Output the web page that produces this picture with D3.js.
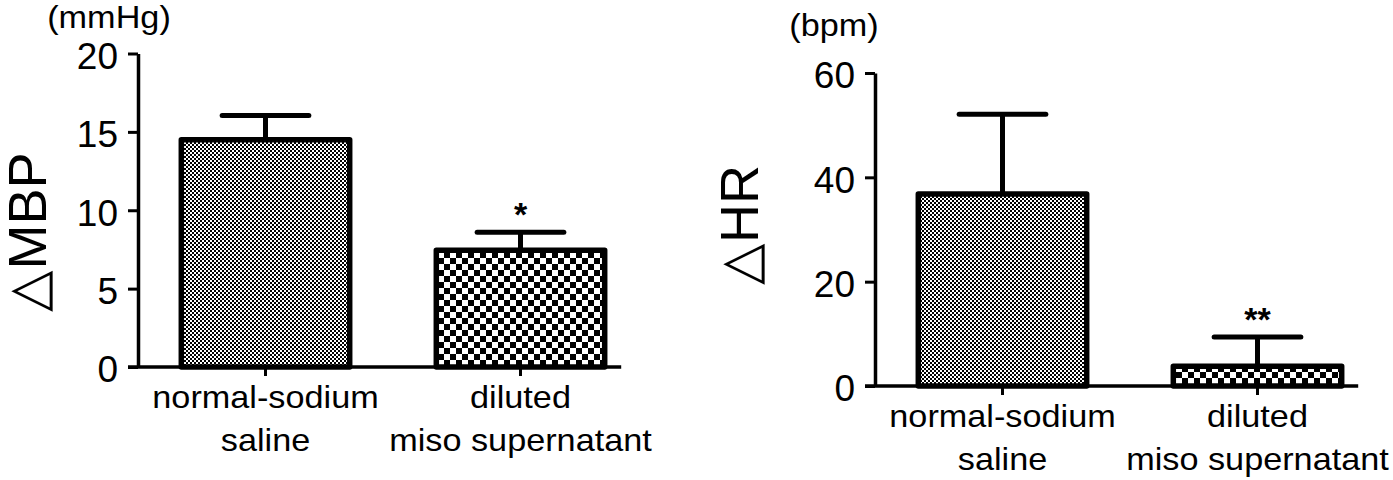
<!DOCTYPE html>
<html>
<head>
<meta charset="utf-8">
<script src="https://cdn.jsdelivr.net/npm/d3@7/dist/d3.min.js"></script>
<style>
  html, body { margin: 0; padding: 0; background: #fff; }
  text { font-family: "Liberation Sans", Arial, sans-serif; fill: #000; }
</style>
</head>
<body>
<div id="chart"></div>
<script>
// categories (two text lines each)
const categoryLines = [["normal-sodium", "saline"], ["diluted", "miso supernatant"]];

// left panel: change in mean blood pressure
const mbpMeans = [14.5, 7.45];
const mbpErrors = [1.55, 1.15];
const mbpTicks = [0, 5, 10, 15, 20];
const mbpStars = ["", "*"];

// right panel: change in heart rate
const hrMeans = [36.8, 3.8];
const hrErrors = [15.3, 5.6];
const hrTicks = [0, 20, 40, 60];
const hrStars = ["", "**"];

const patterns = ["checkFine", "checkCoarse"];

const width = 1393;
const height = 480;
const sx = 1.07; // the source text is slightly wide

const svg = d3.select("#chart")
    .append("svg")
    .attr("width", width)
    .attr("height", height);

// checkerboard fills
const defs = svg.append("defs");
function addChecker(id, cell) {
    const p = defs.append("pattern")
        .attr("id", id)
        .attr("patternUnits", "userSpaceOnUse")
        .attr("width", cell * 2)
        .attr("height", cell * 2);
    p.append("rect").attr("width", cell * 2).attr("height", cell * 2).attr("fill", "#fff");
    p.append("rect").attr("width", cell).attr("height", cell).attr("fill", "#000");
    p.append("rect").attr("x", cell).attr("y", cell).attr("width", cell).attr("height", cell).attr("fill", "#000");
}
addChecker("checkFine", 2);
addChecker("checkCoarse", 6);

function stretchedText(g, x, y, str, size, anchor) {
    return g.append("text")
        .attr("transform", `translate(${x},${y}) scale(${sx},1)`)
        .attr("text-anchor", anchor || "middle")
        .attr("font-size", size + "px")
        .text(str);
}

function drawPanel(cfg) {
    const g = svg.append("g");

    const y = d3.scaleLinear()
        .domain([0, cfg.max])
        .range([cfg.y0, cfg.yTop]);

    const x = d3.scaleBand()
        .domain(d3.range(cfg.means.length))
        .range([cfg.x0, cfg.x0 + 510])
        .paddingInner(0.32)
        .paddingOuter(0.16);

    // y axis
    const yAxis = g.append("g")
        .attr("transform", `translate(${cfg.x0},0)`)
        .call(d3.axisLeft(y).tickValues(cfg.ticks).tickSize(10).tickSizeOuter(0).tickPadding(10));
    yAxis.select(".domain").attr("stroke", "#000").attr("stroke-width", 3.5);
    yAxis.selectAll(".tick line").attr("stroke", "#000").attr("stroke-width", 3);
    yAxis.selectAll(".tick text")
        .attr("font-family", "Liberation Sans, Arial, sans-serif")
        .attr("font-size", "37px")
        .attr("fill", "#000")
        .attr("dy", "0.4em");

    // bars
    g.selectAll(".bar")
        .data(cfg.means)
        .enter()
        .append("rect")
        .attr("class", "bar")
        .attr("x", (d, i) => x(i) + 2.5)
        .attr("y", d => y(d))
        .attr("width", x.bandwidth() - 5)
        .attr("height", d => y(0) - y(d))
        .attr("fill", (d, i) => `url(#${patterns[i]})`)
        .attr("stroke", "#000")
        .attr("stroke-width", 5.5)
        .attr("stroke-linejoin", "round");

    // error bars (upper only)
    cfg.means.forEach((m, i) => {
        const cx = x(i) + x.bandwidth() / 2;
        const top = y(m + cfg.errors[i]);
        const capHalf = x.bandwidth() * 0.25;
        g.append("line")
            .attr("x1", cx).attr("x2", cx)
            .attr("y1", y(m)).attr("y2", top)
            .attr("stroke", "#000").attr("stroke-width", 5);
        g.append("line")
            .attr("x1", cx - capHalf).attr("x2", cx + capHalf)
            .attr("y1", top).attr("y2", top)
            .attr("stroke", "#000").attr("stroke-width", 5)
            .attr("stroke-linecap", "round");
        if (cfg.stars[i]) {
            g.append("text")
                .attr("x", cx)
                .attr("y", top - 6)
                .attr("text-anchor", "middle")
                .attr("font-size", "34px")
                .attr("font-weight", "bold")
                .text(cfg.stars[i]);
        }
    });

    // x axis: line plus small ticks at the category centres
    const lastEnd = x(cfg.means.length - 1) + x.bandwidth();
    g.append("line")
        .attr("x1", cfg.x0 - 10).attr("x2", lastEnd + 14)
        .attr("y1", y(0)).attr("y2", y(0))
        .attr("stroke", "#000").attr("stroke-width", 3.5);
    const xAxis = g.append("g")
        .attr("transform", `translate(0,${y(0)})`)
        .call(d3.axisBottom(x).tickSize(9).tickFormat(() => ""));
    xAxis.select(".domain").remove();
    xAxis.selectAll(".tick line").attr("stroke", "#000").attr("stroke-width", 3);

    // category labels
    categoryLines.forEach((lines, i) => {
        const cx = x(i) + x.bandwidth() / 2;
        lines.forEach((str, j) => {
            stretchedText(g, cx, y(0) + 41 + j * 43, str, 32);
        });
    });

    // unit label
    stretchedText(g, cfg.unitX, cfg.unitY, cfg.unit, 32);

    // rotated axis title
    g.append("text")
        .attr("transform", `translate(${cfg.titleX},${cfg.titleY}) rotate(-90)`)
        .attr("text-anchor", "middle")
        .attr("font-size", "54px")
        .text(cfg.title);
}

drawPanel({
    means: mbpMeans, errors: mbpErrors, ticks: mbpTicks, stars: mbpStars,
    max: 20, x0: 138, y0: 367, yTop: 53.5,
    unit: "(mmHg)", unitX: 109, unitY: 28,
    title: "\u25B3MBP", titleX: 46, titleY: 232
});

drawPanel({
    means: hrMeans, errors: hrErrors, ticks: hrTicks, stars: hrStars,
    max: 60, x0: 875, y0: 386, yTop: 73,
    unit: "(bpm)", unitX: 834, unitY: 36,
    title: "\u25B3HR", titleX: 758, titleY: 225
});
</script>
</body>
</html>
